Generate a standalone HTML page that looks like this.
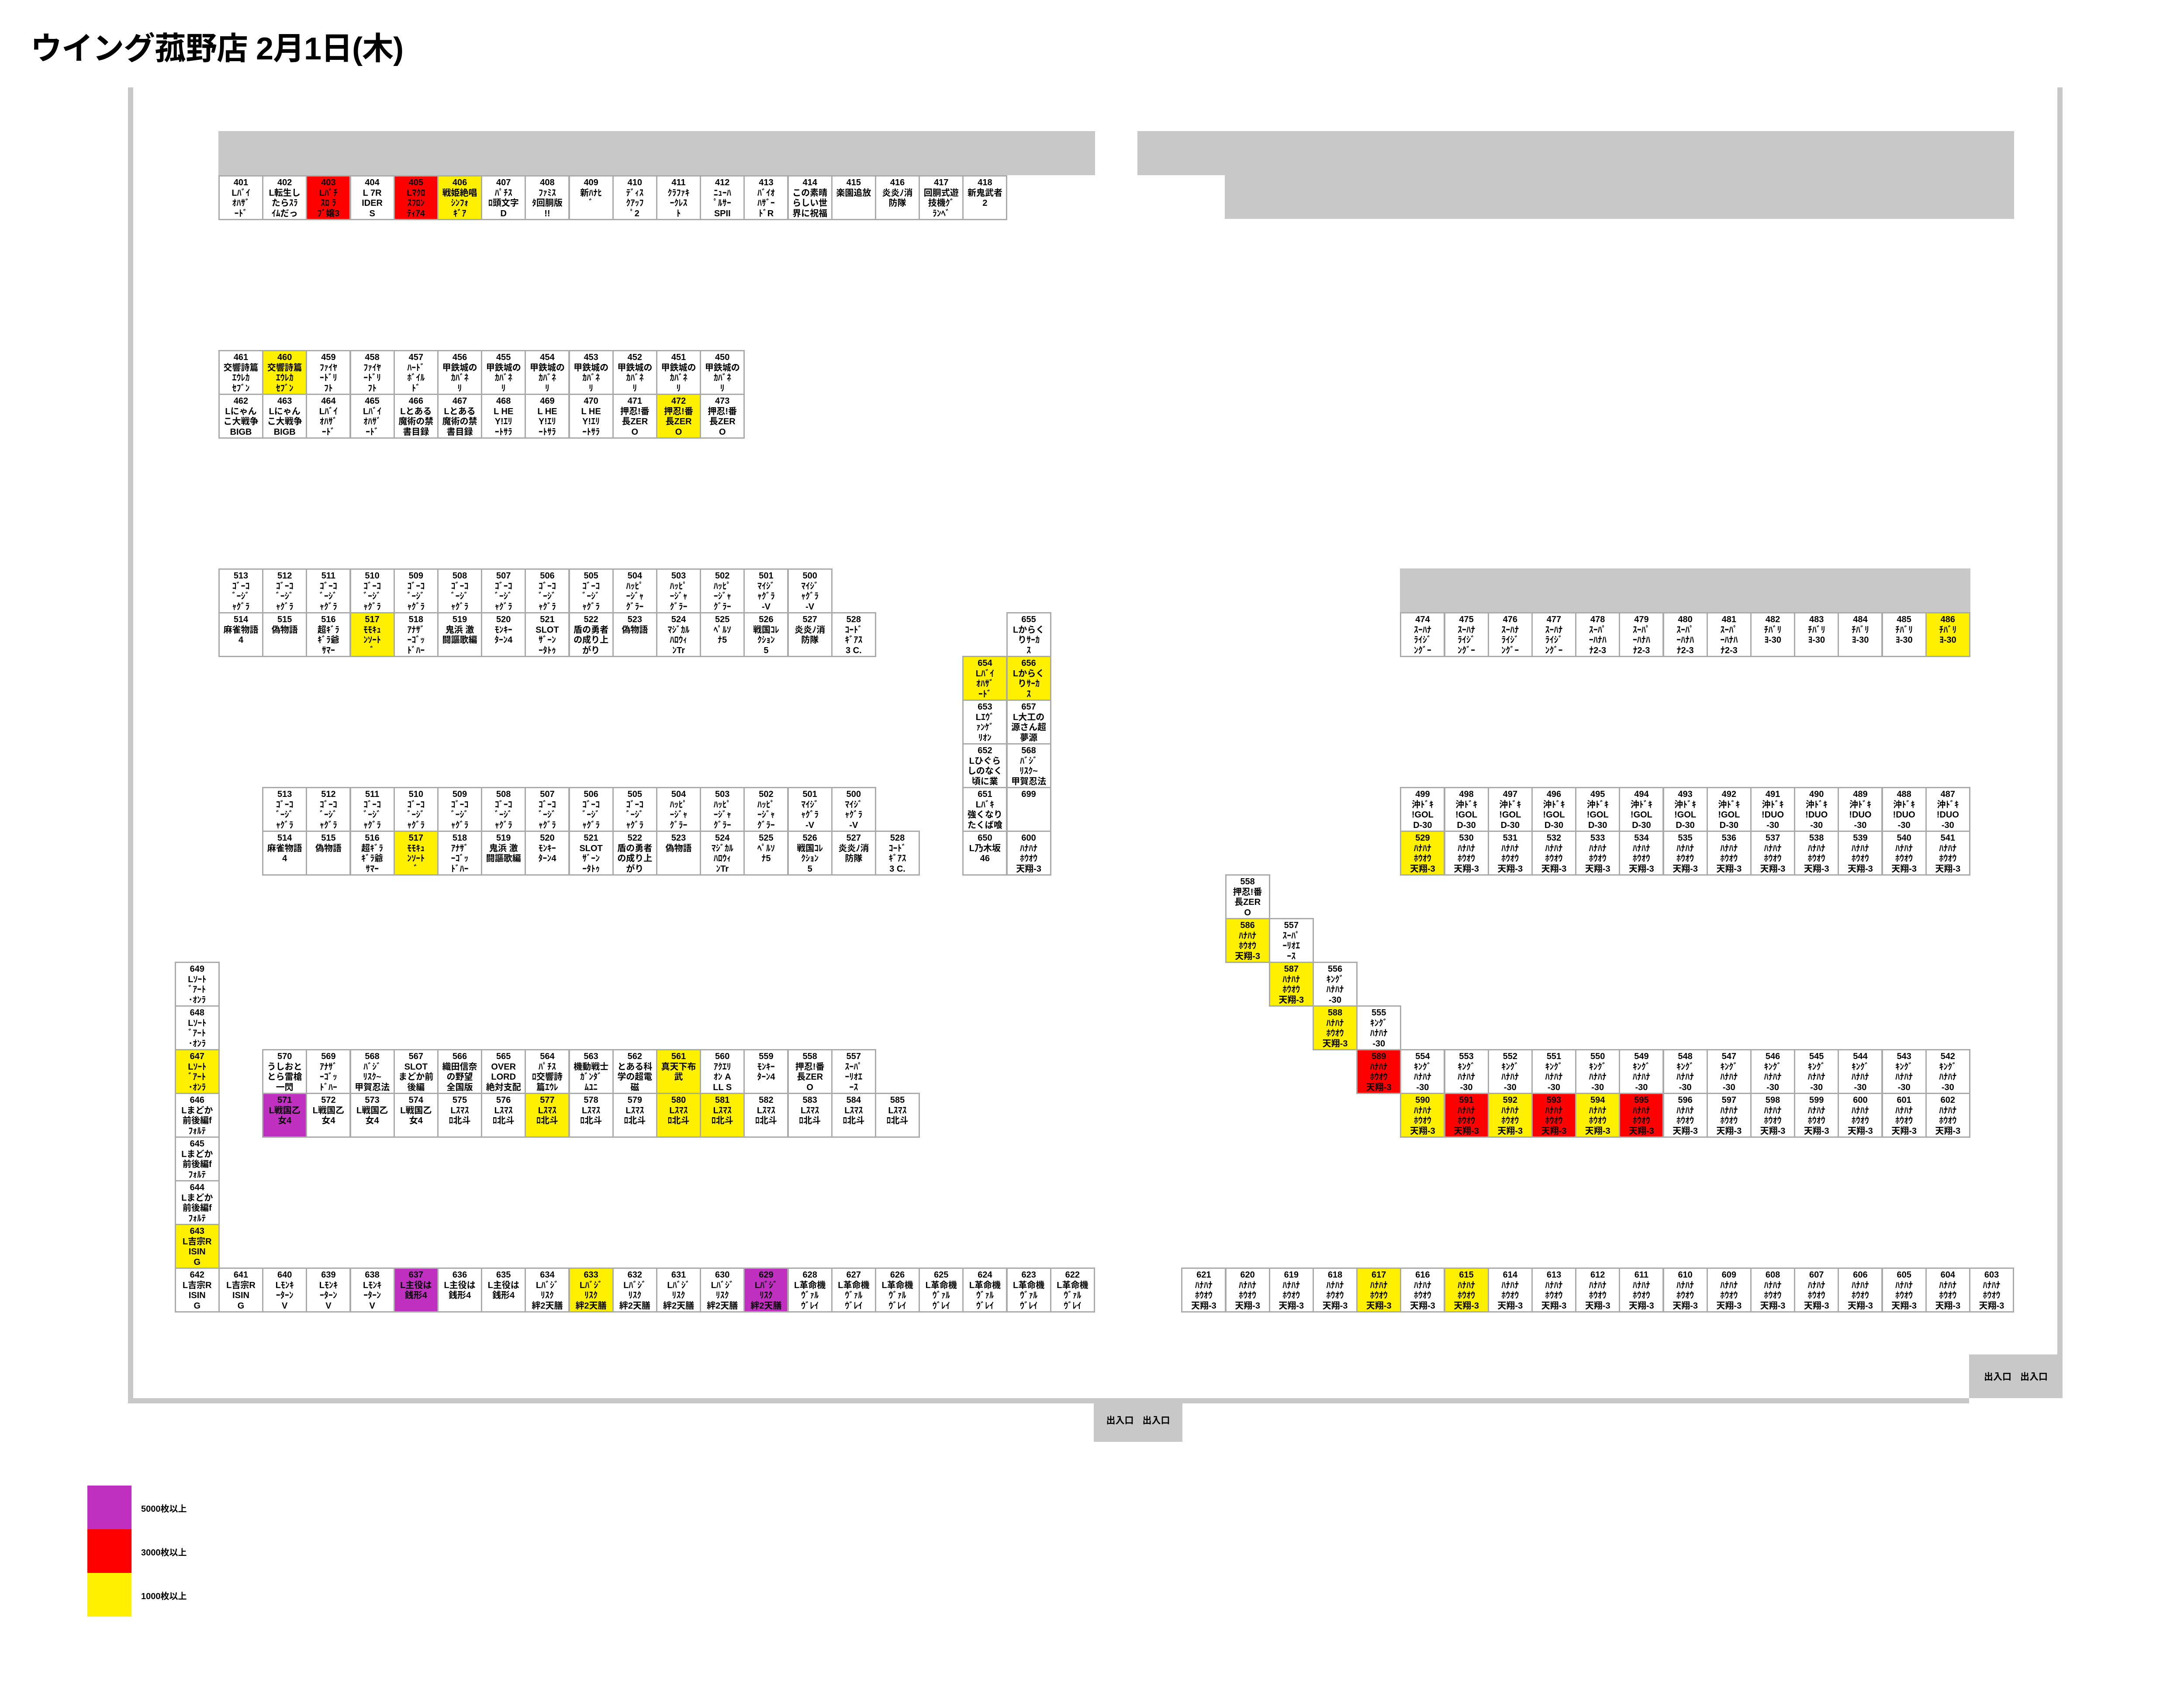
<!DOCTYPE html>
<html><head><meta charset="utf-8">
<style>
*{margin:0;padding:0}
body{width:5100px;height:3900px;background:#fff;position:relative;overflow:hidden;font-family:"Liberation Sans","Noto Sans CJK JP",sans-serif}
.g{position:absolute;background:#c8c8c8}
.r{position:absolute;display:flex}
.v{flex-direction:column}
.c{flex:none;width:103px;height:103px;margin-right:-2.8px;border:3px solid #aaa;box-sizing:border-box;background:#fff;text-align:center;font-weight:bold;font-size:20px;line-height:23.5px;padding-top:3px;overflow:hidden;color:#000;white-space:nowrap}
.v .c{margin-right:0;margin-bottom:-3px}
.a{position:absolute}
.y{background:#fff000}.rd{background:#ff0000}.p{background:#c030c0}
.t{position:absolute;left:70px;top:72px;font-size:72px;font-weight:bold;font-family:"Liberation Sans","Noto Sans CJK JP",sans-serif;line-height:80px;letter-spacing:-1px}
.ex{position:absolute;background:#c8c8c8;font-weight:bold;font-size:21px;display:flex;align-items:center;justify-content:center;gap:20px}
.lg{position:absolute;left:200px;width:101px;height:100px}
.lt{position:absolute;left:323px;font-weight:bold;font-size:20px}
</style></head><body>
<div class="t">ウイング菰野店 2月1日(木)</div>

<!-- walls -->
<div class="g" style="left:293px;top:200px;width:12px;height:3012px"></div>
<div class="g" style="left:293px;top:3200px;width:4215px;height:12px"></div>
<div class="g" style="left:4710px;top:200px;width:12px;height:3000px"></div>
<div class="ex" style="left:2504px;top:3200px;width:203px;height:100px"><span>出入口</span><span>出入口</span></div>
<div class="ex" style="left:4508px;top:3100px;width:214px;height:100px"><span>出入口</span><span>出入口</span></div>

<!-- gray bands -->
<div class="g" style="left:500px;top:300px;width:2007px;height:101px"></div>
<div class="g" style="left:2604px;top:300px;width:2007px;height:101px"></div>
<div class="g" style="left:2804px;top:400px;width:1807px;height:101px"></div>
<div class="g" style="left:3205px;top:1301px;width:1306px;height:101px"></div>

<!-- 401-418 -->
<div class="r" style="left:500px;top:401px">
<div class="c">401<br>Lﾊﾞｲ<br>ｵﾊｻﾞ<br>ｰﾄﾞ</div>
<div class="c">402<br>L転生し<br>たらｽﾗ<br>ｲﾑだっ</div>
<div class="c rd">403<br>Lﾊﾟﾁ<br>ｽﾛ ﾗ<br>ﾌﾞ嬢3</div>
<div class="c">404<br>L 7R<br>IDER<br>S</div>
<div class="c rd">405<br>Lﾏｸﾛ<br>ｽﾌﾛﾝ<br>ﾃｨｱ4</div>
<div class="c y">406<br>戦姫絶唱<br>ｼﾝﾌｫ<br>ｷﾞｱ</div>
<div class="c">407<br>ﾊﾟﾁｽ<br>ﾛ頭文字<br>D</div>
<div class="c">408<br>ﾌｧﾐｽ<br>ﾀ回胴版<br>!!</div>
<div class="c">409<br>新ﾊﾅﾋ<br>ﾞ</div>
<div class="c">410<br>ﾃﾞｨｽ<br>ｸｱｯﾌ<br>ﾟ2</div>
<div class="c">411<br>ｸﾗﾌｧｷ<br>ｰｸﾚｽ<br>ﾄ</div>
<div class="c">412<br>ﾆｭｰﾊ<br>ﾟﾙｻｰ<br>SPII</div>
<div class="c">413<br>ﾊﾞｲｵ<br>ﾊｻﾞｰ<br>ﾄﾞR</div>
<div class="c">414<br>この素晴<br>らしい世<br>界に祝福</div>
<div class="c">415<br>楽園追放</div>
<div class="c">416<br>炎炎ﾉ消<br>防隊</div>
<div class="c">417<br>回胴式遊<br>技機ｸﾞ<br>ﾗﾝﾍﾞ</div>
<div class="c">418<br>新鬼武者<br>2</div>
</div>

<!-- 461-450 -->
<div class="r" style="left:500px;top:801px">
<div class="c">461<br>交響詩篇<br>ｴｳﾚｶ<br>ｾﾌﾞﾝ</div>
<div class="c y">460<br>交響詩篇<br>ｴｳﾚｶ<br>ｾﾌﾞﾝ</div>
<div class="c">459<br>ﾌｧｲﾔ<br>ｰﾄﾞﾘ<br>ﾌﾄ</div>
<div class="c">458<br>ﾌｧｲﾔ<br>ｰﾄﾞﾘ<br>ﾌﾄ</div>
<div class="c">457<br>ﾊｰﾄﾞ<br>ﾎﾞｲﾙ<br>ﾄﾞ</div>
<div class="c">456<br>甲鉄城の<br>ｶﾊﾞﾈ<br>ﾘ</div>
<div class="c">455<br>甲鉄城の<br>ｶﾊﾞﾈ<br>ﾘ</div>
<div class="c">454<br>甲鉄城の<br>ｶﾊﾞﾈ<br>ﾘ</div>
<div class="c">453<br>甲鉄城の<br>ｶﾊﾞﾈ<br>ﾘ</div>
<div class="c">452<br>甲鉄城の<br>ｶﾊﾞﾈ<br>ﾘ</div>
<div class="c">451<br>甲鉄城の<br>ｶﾊﾞﾈ<br>ﾘ</div>
<div class="c">450<br>甲鉄城の<br>ｶﾊﾞﾈ<br>ﾘ</div>
</div>
<div class="r" style="left:500px;top:901px">
<div class="c">462<br>Lにゃん<br>こ大戦争<br>BIGB</div>
<div class="c">463<br>Lにゃん<br>こ大戦争<br>BIGB</div>
<div class="c">464<br>Lﾊﾞｲ<br>ｵﾊｻﾞ<br>ｰﾄﾞ</div>
<div class="c">465<br>Lﾊﾞｲ<br>ｵﾊｻﾞ<br>ｰﾄﾞ</div>
<div class="c">466<br>Lとある<br>魔術の禁<br>書目録</div>
<div class="c">467<br>Lとある<br>魔術の禁<br>書目録</div>
<div class="c">468<br>L HE<br>Y!ｴﾘ<br>ｰﾄｻﾗ</div>
<div class="c">469<br>L HE<br>Y!ｴﾘ<br>ｰﾄｻﾗ</div>
<div class="c">470<br>L HE<br>Y!ｴﾘ<br>ｰﾄｻﾗ</div>
<div class="c">471<br>押忍!番<br>長ZER<br>O</div>
<div class="c y">472<br>押忍!番<br>長ZER<br>O</div>
<div class="c">473<br>押忍!番<br>長ZER<br>O</div>
</div>

<!-- 513 block 1 -->
<div class="r" style="left:500px;top:1301px">
<div class="c">513<br>ｺﾞｰｺ<br>ﾞｰｼﾞ<br>ｬｸﾞﾗ</div>
<div class="c">512<br>ｺﾞｰｺ<br>ﾞｰｼﾞ<br>ｬｸﾞﾗ</div>
<div class="c">511<br>ｺﾞｰｺ<br>ﾞｰｼﾞ<br>ｬｸﾞﾗ</div>
<div class="c">510<br>ｺﾞｰｺ<br>ﾞｰｼﾞ<br>ｬｸﾞﾗ</div>
<div class="c">509<br>ｺﾞｰｺ<br>ﾞｰｼﾞ<br>ｬｸﾞﾗ</div>
<div class="c">508<br>ｺﾞｰｺ<br>ﾞｰｼﾞ<br>ｬｸﾞﾗ</div>
<div class="c">507<br>ｺﾞｰｺ<br>ﾞｰｼﾞ<br>ｬｸﾞﾗ</div>
<div class="c">506<br>ｺﾞｰｺ<br>ﾞｰｼﾞ<br>ｬｸﾞﾗ</div>
<div class="c">505<br>ｺﾞｰｺ<br>ﾞｰｼﾞ<br>ｬｸﾞﾗ</div>
<div class="c">504<br>ﾊｯﾋﾟ<br>ｰｼﾞｬ<br>ｸﾞﾗｰ</div>
<div class="c">503<br>ﾊｯﾋﾟ<br>ｰｼﾞｬ<br>ｸﾞﾗｰ</div>
<div class="c">502<br>ﾊｯﾋﾟ<br>ｰｼﾞｬ<br>ｸﾞﾗｰ</div>
<div class="c">501<br>ﾏｲｼﾞ<br>ｬｸﾞﾗ<br>-V</div>
<div class="c">500<br>ﾏｲｼﾞ<br>ｬｸﾞﾗ<br>-V</div>
</div>
<div class="r" style="left:500px;top:1401px">
<div class="c">514<br>麻雀物語<br>4</div>
<div class="c">515<br>偽物語</div>
<div class="c">516<br>超ｷﾞﾗ<br>ｷﾞﾗ爺<br>ｻﾏｰ</div>
<div class="c y">517<br>ﾓﾓｷｭ<br>ﾝｿｰﾄ<br>ﾞ</div>
<div class="c">518<br>ｱﾅｻﾞ<br>ｰｺﾞｯ<br>ﾄﾞﾊｰ</div>
<div class="c">519<br>鬼浜 激<br>闘謳歌編</div>
<div class="c">520<br>ﾓﾝｷｰ<br>ﾀｰﾝ4</div>
<div class="c">521<br>SLOT<br>ｻﾞｰﾝ<br>ｰﾀﾄｩ</div>
<div class="c">522<br>盾の勇者<br>の成り上<br>がり</div>
<div class="c">523<br>偽物語</div>
<div class="c">524<br>ﾏｼﾞｶﾙ<br>ﾊﾛｳｨ<br>ﾝTr</div>
<div class="c">525<br>ﾍﾟﾙｿ<br>ﾅ5</div>
<div class="c">526<br>戦国ｺﾚ<br>ｸｼｮﾝ<br>5</div>
<div class="c">527<br>炎炎ﾉ消<br>防隊</div>
<div class="c">528<br>ｺｰﾄﾞ<br>ｷﾞｱｽ<br>3 C.</div>
</div>

<!-- 655 column block -->
<div class="r v" style="left:2303.6px;top:1401px">
<div class="c">655<br>Lからく<br>りｻｰｶ<br>ｽ</div>
<div class="c y">656<br>Lからく<br>りｻｰｶ<br>ｽ</div>
<div class="c">657<br>L大工の<br>源さん超<br>夢源</div>
<div class="c">568<br>ﾊﾞｼﾞ<br>ﾘｽｸ~<br>甲賀忍法</div>
<div class="c">699</div>
<div class="c">600<br>ﾊﾅﾊﾅ<br>ﾎｳｵｳ<br>天翔-3</div>
</div>
<div class="r v" style="left:2203.4px;top:1501px">
<div class="c y">654<br>Lﾊﾞｲ<br>ｵﾊｻﾞ<br>ｰﾄﾞ</div>
<div class="c">653<br>Lｴｳﾞ<br>ｧﾝｹﾞ<br>ﾘｵﾝ</div>
<div class="c">652<br>Lひぐら<br>しのなく<br>頃に業</div>
<div class="c">651<br>Lﾊﾞｷ<br>強くなり<br>たくば喰</div>
<div class="c">650<br>L乃木坂<br>46</div>
</div>

<!-- 513 block 2 -->
<div class="r" style="left:600.2px;top:1801px">
<div class="c">513<br>ｺﾞｰｺ<br>ﾞｰｼﾞ<br>ｬｸﾞﾗ</div>
<div class="c">512<br>ｺﾞｰｺ<br>ﾞｰｼﾞ<br>ｬｸﾞﾗ</div>
<div class="c">511<br>ｺﾞｰｺ<br>ﾞｰｼﾞ<br>ｬｸﾞﾗ</div>
<div class="c">510<br>ｺﾞｰｺ<br>ﾞｰｼﾞ<br>ｬｸﾞﾗ</div>
<div class="c">509<br>ｺﾞｰｺ<br>ﾞｰｼﾞ<br>ｬｸﾞﾗ</div>
<div class="c">508<br>ｺﾞｰｺ<br>ﾞｰｼﾞ<br>ｬｸﾞﾗ</div>
<div class="c">507<br>ｺﾞｰｺ<br>ﾞｰｼﾞ<br>ｬｸﾞﾗ</div>
<div class="c">506<br>ｺﾞｰｺ<br>ﾞｰｼﾞ<br>ｬｸﾞﾗ</div>
<div class="c">505<br>ｺﾞｰｺ<br>ﾞｰｼﾞ<br>ｬｸﾞﾗ</div>
<div class="c">504<br>ﾊｯﾋﾟ<br>ｰｼﾞｬ<br>ｸﾞﾗｰ</div>
<div class="c">503<br>ﾊｯﾋﾟ<br>ｰｼﾞｬ<br>ｸﾞﾗｰ</div>
<div class="c">502<br>ﾊｯﾋﾟ<br>ｰｼﾞｬ<br>ｸﾞﾗｰ</div>
<div class="c">501<br>ﾏｲｼﾞ<br>ｬｸﾞﾗ<br>-V</div>
<div class="c">500<br>ﾏｲｼﾞ<br>ｬｸﾞﾗ<br>-V</div>
</div>
<div class="r" style="left:600.2px;top:1901px">
<div class="c">514<br>麻雀物語<br>4</div>
<div class="c">515<br>偽物語</div>
<div class="c">516<br>超ｷﾞﾗ<br>ｷﾞﾗ爺<br>ｻﾏｰ</div>
<div class="c y">517<br>ﾓﾓｷｭ<br>ﾝｿｰﾄ<br>ﾞ</div>
<div class="c">518<br>ｱﾅｻﾞ<br>ｰｺﾞｯ<br>ﾄﾞﾊｰ</div>
<div class="c">519<br>鬼浜 激<br>闘謳歌編</div>
<div class="c">520<br>ﾓﾝｷｰ<br>ﾀｰﾝ4</div>
<div class="c">521<br>SLOT<br>ｻﾞｰﾝ<br>ｰﾀﾄｩ</div>
<div class="c">522<br>盾の勇者<br>の成り上<br>がり</div>
<div class="c">523<br>偽物語</div>
<div class="c">524<br>ﾏｼﾞｶﾙ<br>ﾊﾛｳｨ<br>ﾝTr</div>
<div class="c">525<br>ﾍﾟﾙｿ<br>ﾅ5</div>
<div class="c">526<br>戦国ｺﾚ<br>ｸｼｮﾝ<br>5</div>
<div class="c">527<br>炎炎ﾉ消<br>防隊</div>
<div class="c">528<br>ｺｰﾄﾞ<br>ｷﾞｱｽ<br>3 C.</div>
</div>

<!-- right 474-486 -->
<div class="r" style="left:3205.4px;top:1401px">
<div class="c">474<br>ｽｰﾊﾅ<br>ﾗｲｼﾞ<br>ﾝｸﾞｰ</div>
<div class="c">475<br>ｽｰﾊﾅ<br>ﾗｲｼﾞ<br>ﾝｸﾞｰ</div>
<div class="c">476<br>ｽｰﾊﾅ<br>ﾗｲｼﾞ<br>ﾝｸﾞｰ</div>
<div class="c">477<br>ｽｰﾊﾅ<br>ﾗｲｼﾞ<br>ﾝｸﾞｰ</div>
<div class="c">478<br>ｽｰﾊﾟ<br>ｰﾊﾅﾊ<br>ﾅ2-3</div>
<div class="c">479<br>ｽｰﾊﾟ<br>ｰﾊﾅﾊ<br>ﾅ2-3</div>
<div class="c">480<br>ｽｰﾊﾟ<br>ｰﾊﾅﾊ<br>ﾅ2-3</div>
<div class="c">481<br>ｽｰﾊﾟ<br>ｰﾊﾅﾊ<br>ﾅ2-3</div>
<div class="c">482<br>ﾁﾊﾞﾘ<br>ﾖ-30</div>
<div class="c">483<br>ﾁﾊﾞﾘ<br>ﾖ-30</div>
<div class="c">484<br>ﾁﾊﾞﾘ<br>ﾖ-30</div>
<div class="c">485<br>ﾁﾊﾞﾘ<br>ﾖ-30</div>
<div class="c y">486<br>ﾁﾊﾞﾘ<br>ﾖ-30</div>
</div>

<!-- right 499-487 / 529-541 -->
<div class="r" style="left:3205.4px;top:1801px">
<div class="c">499<br>沖ﾄﾞｷ<br>!GOL<br>D-30</div>
<div class="c">498<br>沖ﾄﾞｷ<br>!GOL<br>D-30</div>
<div class="c">497<br>沖ﾄﾞｷ<br>!GOL<br>D-30</div>
<div class="c">496<br>沖ﾄﾞｷ<br>!GOL<br>D-30</div>
<div class="c">495<br>沖ﾄﾞｷ<br>!GOL<br>D-30</div>
<div class="c">494<br>沖ﾄﾞｷ<br>!GOL<br>D-30</div>
<div class="c">493<br>沖ﾄﾞｷ<br>!GOL<br>D-30</div>
<div class="c">492<br>沖ﾄﾞｷ<br>!GOL<br>D-30</div>
<div class="c">491<br>沖ﾄﾞｷ<br>!DUO<br>-30</div>
<div class="c">490<br>沖ﾄﾞｷ<br>!DUO<br>-30</div>
<div class="c">489<br>沖ﾄﾞｷ<br>!DUO<br>-30</div>
<div class="c">488<br>沖ﾄﾞｷ<br>!DUO<br>-30</div>
<div class="c">487<br>沖ﾄﾞｷ<br>!DUO<br>-30</div>
</div>
<div class="r" style="left:3205.4px;top:1901px">
<div class="c y">529<br>ﾊﾅﾊﾅ<br>ﾎｳｵｳ<br>天翔-3</div>
<div class="c">530<br>ﾊﾅﾊﾅ<br>ﾎｳｵｳ<br>天翔-3</div>
<div class="c">531<br>ﾊﾅﾊﾅ<br>ﾎｳｵｳ<br>天翔-3</div>
<div class="c">532<br>ﾊﾅﾊﾅ<br>ﾎｳｵｳ<br>天翔-3</div>
<div class="c">533<br>ﾊﾅﾊﾅ<br>ﾎｳｵｳ<br>天翔-3</div>
<div class="c">534<br>ﾊﾅﾊﾅ<br>ﾎｳｵｳ<br>天翔-3</div>
<div class="c">535<br>ﾊﾅﾊﾅ<br>ﾎｳｵｳ<br>天翔-3</div>
<div class="c">536<br>ﾊﾅﾊﾅ<br>ﾎｳｵｳ<br>天翔-3</div>
<div class="c">537<br>ﾊﾅﾊﾅ<br>ﾎｳｵｳ<br>天翔-3</div>
<div class="c">538<br>ﾊﾅﾊﾅ<br>ﾎｳｵｳ<br>天翔-3</div>
<div class="c">539<br>ﾊﾅﾊﾅ<br>ﾎｳｵｳ<br>天翔-3</div>
<div class="c">540<br>ﾊﾅﾊﾅ<br>ﾎｳｵｳ<br>天翔-3</div>
<div class="c">541<br>ﾊﾅﾊﾅ<br>ﾎｳｵｳ<br>天翔-3</div>
</div>

<!-- stairs -->
<div class="r v" style="left:2804.6px;top:2001px">
<div class="c">558<br>押忍!番<br>長ZER<br>O</div>
<div class="c y">586<br>ﾊﾅﾊﾅ<br>ﾎｳｵｳ<br>天翔-3</div>
</div>
<div class="r v" style="left:2904.8px;top:2101px">
<div class="c">557<br>ｽｰﾊﾟ<br>ｰﾘｵｴ<br>ｰｽ</div>
<div class="c y">587<br>ﾊﾅﾊﾅ<br>ﾎｳｵｳ<br>天翔-3</div>
</div>
<div class="r v" style="left:3005px;top:2201px">
<div class="c">556<br>ｷﾝｸﾞ<br>ﾊﾅﾊﾅ<br>-30</div>
<div class="c y">588<br>ﾊﾅﾊﾅ<br>ﾎｳｵｳ<br>天翔-3</div>
</div>
<div class="r v" style="left:3105.2px;top:2301px">
<div class="c">555<br>ｷﾝｸﾞ<br>ﾊﾅﾊﾅ<br>-30</div>
<div class="c rd">589<br>ﾊﾅﾊﾅ<br>ﾎｳｵｳ<br>天翔-3</div>
</div>
<div class="r" style="left:3205.4px;top:2401px">
<div class="c">554<br>ｷﾝｸﾞ<br>ﾊﾅﾊﾅ<br>-30</div>
<div class="c">553<br>ｷﾝｸﾞ<br>ﾊﾅﾊﾅ<br>-30</div>
<div class="c">552<br>ｷﾝｸﾞ<br>ﾊﾅﾊﾅ<br>-30</div>
<div class="c">551<br>ｷﾝｸﾞ<br>ﾊﾅﾊﾅ<br>-30</div>
<div class="c">550<br>ｷﾝｸﾞ<br>ﾊﾅﾊﾅ<br>-30</div>
<div class="c">549<br>ｷﾝｸﾞ<br>ﾊﾅﾊﾅ<br>-30</div>
<div class="c">548<br>ｷﾝｸﾞ<br>ﾊﾅﾊﾅ<br>-30</div>
<div class="c">547<br>ｷﾝｸﾞ<br>ﾊﾅﾊﾅ<br>-30</div>
<div class="c">546<br>ｷﾝｸﾞ<br>ﾊﾅﾊﾅ<br>-30</div>
<div class="c">545<br>ｷﾝｸﾞ<br>ﾊﾅﾊﾅ<br>-30</div>
<div class="c">544<br>ｷﾝｸﾞ<br>ﾊﾅﾊﾅ<br>-30</div>
<div class="c">543<br>ｷﾝｸﾞ<br>ﾊﾅﾊﾅ<br>-30</div>
<div class="c">542<br>ｷﾝｸﾞ<br>ﾊﾅﾊﾅ<br>-30</div>
</div>
<div class="r" style="left:3205.4px;top:2501px">
<div class="c y">590<br>ﾊﾅﾊﾅ<br>ﾎｳｵｳ<br>天翔-3</div>
<div class="c rd">591<br>ﾊﾅﾊﾅ<br>ﾎｳｵｳ<br>天翔-3</div>
<div class="c y">592<br>ﾊﾅﾊﾅ<br>ﾎｳｵｳ<br>天翔-3</div>
<div class="c rd">593<br>ﾊﾅﾊﾅ<br>ﾎｳｵｳ<br>天翔-3</div>
<div class="c y">594<br>ﾊﾅﾊﾅ<br>ﾎｳｵｳ<br>天翔-3</div>
<div class="c rd">595<br>ﾊﾅﾊﾅ<br>ﾎｳｵｳ<br>天翔-3</div>
<div class="c">596<br>ﾊﾅﾊﾅ<br>ﾎｳｵｳ<br>天翔-3</div>
<div class="c">597<br>ﾊﾅﾊﾅ<br>ﾎｳｵｳ<br>天翔-3</div>
<div class="c">598<br>ﾊﾅﾊﾅ<br>ﾎｳｵｳ<br>天翔-3</div>
<div class="c">599<br>ﾊﾅﾊﾅ<br>ﾎｳｵｳ<br>天翔-3</div>
<div class="c">600<br>ﾊﾅﾊﾅ<br>ﾎｳｵｳ<br>天翔-3</div>
<div class="c">601<br>ﾊﾅﾊﾅ<br>ﾎｳｵｳ<br>天翔-3</div>
<div class="c">602<br>ﾊﾅﾊﾅ<br>ﾎｳｵｳ<br>天翔-3</div>
</div>

<!-- left column 649-643 -->
<div class="r v" style="left:399.8px;top:2201px">
<div class="c">649<br>Lｿｰﾄ<br>ﾞｱｰﾄ<br>･ｵﾝﾗ</div>
<div class="c">648<br>Lｿｰﾄ<br>ﾞｱｰﾄ<br>･ｵﾝﾗ</div>
<div class="c y">647<br>Lｿｰﾄ<br>ﾞｱｰﾄ<br>･ｵﾝﾗ</div>
<div class="c">646<br>Lまどか<br>前後編f<br>ﾌｫﾙﾃ</div>
<div class="c">645<br>Lまどか<br>前後編f<br>ﾌｫﾙﾃ</div>
<div class="c">644<br>Lまどか<br>前後編f<br>ﾌｫﾙﾃ</div>
<div class="c y">643<br>L吉宗R<br>ISIN<br>G</div>
</div>

<!-- 570-557 / 571-585 -->
<div class="r" style="left:600.2px;top:2401px">
<div class="c">570<br>うしおと<br>とら雷槍<br>一閃</div>
<div class="c">569<br>ｱﾅｻﾞ<br>ｰｺﾞｯ<br>ﾄﾞﾊｰ</div>
<div class="c">568<br>ﾊﾞｼﾞ<br>ﾘｽｸ~<br>甲賀忍法</div>
<div class="c">567<br>SLOT<br>まどか前<br>後編</div>
<div class="c">566<br>織田信奈<br>の野望<br>全国版</div>
<div class="c">565<br>OVER<br>LORD<br>絶対支配</div>
<div class="c">564<br>ﾊﾟﾁｽ<br>ﾛ交響詩<br>篇ｴｳﾚ</div>
<div class="c">563<br>機動戦士<br>ｶﾞﾝﾀﾞ<br>ﾑﾕﾆ</div>
<div class="c">562<br>とある科<br>学の超電<br>磁</div>
<div class="c y">561<br>真天下布<br>武</div>
<div class="c">560<br>ｱｸｴﾘ<br>ｵﾝ A<br>LL S</div>
<div class="c">559<br>ﾓﾝｷｰ<br>ﾀｰﾝ4</div>
<div class="c">558<br>押忍!番<br>長ZER<br>O</div>
<div class="c">557<br>ｽｰﾊﾟ<br>ｰﾘｵｴ<br>ｰｽ</div>
</div>
<div class="r" style="left:600.2px;top:2501px">
<div class="c p">571<br>L戦国乙<br>女4</div>
<div class="c">572<br>L戦国乙<br>女4</div>
<div class="c">573<br>L戦国乙<br>女4</div>
<div class="c">574<br>L戦国乙<br>女4</div>
<div class="c">575<br>Lｽﾏｽ<br>ﾛ北斗</div>
<div class="c">576<br>Lｽﾏｽ<br>ﾛ北斗</div>
<div class="c y">577<br>Lｽﾏｽ<br>ﾛ北斗</div>
<div class="c">578<br>Lｽﾏｽ<br>ﾛ北斗</div>
<div class="c">579<br>Lｽﾏｽ<br>ﾛ北斗</div>
<div class="c y">580<br>Lｽﾏｽ<br>ﾛ北斗</div>
<div class="c y">581<br>Lｽﾏｽ<br>ﾛ北斗</div>
<div class="c">582<br>Lｽﾏｽ<br>ﾛ北斗</div>
<div class="c">583<br>Lｽﾏｽ<br>ﾛ北斗</div>
<div class="c">584<br>Lｽﾏｽ<br>ﾛ北斗</div>
<div class="c">585<br>Lｽﾏｽ<br>ﾛ北斗</div>
</div>

<!-- bottom row left 642-622 -->
<div class="r" style="left:399.8px;top:2901px">
<div class="c">642<br>L吉宗R<br>ISIN<br>G</div>
<div class="c">641<br>L吉宗R<br>ISIN<br>G</div>
<div class="c">640<br>Lﾓﾝｷ<br>ｰﾀｰﾝ<br>V</div>
<div class="c">639<br>Lﾓﾝｷ<br>ｰﾀｰﾝ<br>V</div>
<div class="c">638<br>Lﾓﾝｷ<br>ｰﾀｰﾝ<br>V</div>
<div class="c p">637<br>L主役は<br>銭形4</div>
<div class="c">636<br>L主役は<br>銭形4</div>
<div class="c">635<br>L主役は<br>銭形4</div>
<div class="c">634<br>Lﾊﾞｼﾞ<br>ﾘｽｸ<br>絆2天膳</div>
<div class="c y">633<br>Lﾊﾞｼﾞ<br>ﾘｽｸ<br>絆2天膳</div>
<div class="c">632<br>Lﾊﾞｼﾞ<br>ﾘｽｸ<br>絆2天膳</div>
<div class="c">631<br>Lﾊﾞｼﾞ<br>ﾘｽｸ<br>絆2天膳</div>
<div class="c">630<br>Lﾊﾞｼﾞ<br>ﾘｽｸ<br>絆2天膳</div>
<div class="c p">629<br>Lﾊﾞｼﾞ<br>ﾘｽｸ<br>絆2天膳</div>
<div class="c">628<br>L革命機<br>ｳﾞｧﾙ<br>ｳﾞﾚｲ</div>
<div class="c">627<br>L革命機<br>ｳﾞｧﾙ<br>ｳﾞﾚｲ</div>
<div class="c">626<br>L革命機<br>ｳﾞｧﾙ<br>ｳﾞﾚｲ</div>
<div class="c">625<br>L革命機<br>ｳﾞｧﾙ<br>ｳﾞﾚｲ</div>
<div class="c">624<br>L革命機<br>ｳﾞｧﾙ<br>ｳﾞﾚｲ</div>
<div class="c">623<br>L革命機<br>ｳﾞｧﾙ<br>ｳﾞﾚｲ</div>
<div class="c">622<br>L革命機<br>ｳﾞｧﾙ<br>ｳﾞﾚｲ</div>
</div>

<!-- bottom row right 621-603 -->
<div class="r" style="left:2704.4px;top:2901px">
<div class="c">621<br>ﾊﾅﾊﾅ<br>ﾎｳｵｳ<br>天翔-3</div>
<div class="c">620<br>ﾊﾅﾊﾅ<br>ﾎｳｵｳ<br>天翔-3</div>
<div class="c">619<br>ﾊﾅﾊﾅ<br>ﾎｳｵｳ<br>天翔-3</div>
<div class="c">618<br>ﾊﾅﾊﾅ<br>ﾎｳｵｳ<br>天翔-3</div>
<div class="c y">617<br>ﾊﾅﾊﾅ<br>ﾎｳｵｳ<br>天翔-3</div>
<div class="c">616<br>ﾊﾅﾊﾅ<br>ﾎｳｵｳ<br>天翔-3</div>
<div class="c y">615<br>ﾊﾅﾊﾅ<br>ﾎｳｵｳ<br>天翔-3</div>
<div class="c">614<br>ﾊﾅﾊﾅ<br>ﾎｳｵｳ<br>天翔-3</div>
<div class="c">613<br>ﾊﾅﾊﾅ<br>ﾎｳｵｳ<br>天翔-3</div>
<div class="c">612<br>ﾊﾅﾊﾅ<br>ﾎｳｵｳ<br>天翔-3</div>
<div class="c">611<br>ﾊﾅﾊﾅ<br>ﾎｳｵｳ<br>天翔-3</div>
<div class="c">610<br>ﾊﾅﾊﾅ<br>ﾎｳｵｳ<br>天翔-3</div>
<div class="c">609<br>ﾊﾅﾊﾅ<br>ﾎｳｵｳ<br>天翔-3</div>
<div class="c">608<br>ﾊﾅﾊﾅ<br>ﾎｳｵｳ<br>天翔-3</div>
<div class="c">607<br>ﾊﾅﾊﾅ<br>ﾎｳｵｳ<br>天翔-3</div>
<div class="c">606<br>ﾊﾅﾊﾅ<br>ﾎｳｵｳ<br>天翔-3</div>
<div class="c">605<br>ﾊﾅﾊﾅ<br>ﾎｳｵｳ<br>天翔-3</div>
<div class="c">604<br>ﾊﾅﾊﾅ<br>ﾎｳｵｳ<br>天翔-3</div>
<div class="c">603<br>ﾊﾅﾊﾅ<br>ﾎｳｵｳ<br>天翔-3</div>
</div>

<!-- legend -->
<div class="lg p" style="top:3400px"></div>
<div class="lg rd" style="top:3500px"></div>
<div class="lg y" style="top:3600px"></div>
<div class="lt" style="top:3437px">5000枚以上</div>
<div class="lt" style="top:3537px">3000枚以上</div>
<div class="lt" style="top:3637px">1000枚以上</div>
</body></html>
